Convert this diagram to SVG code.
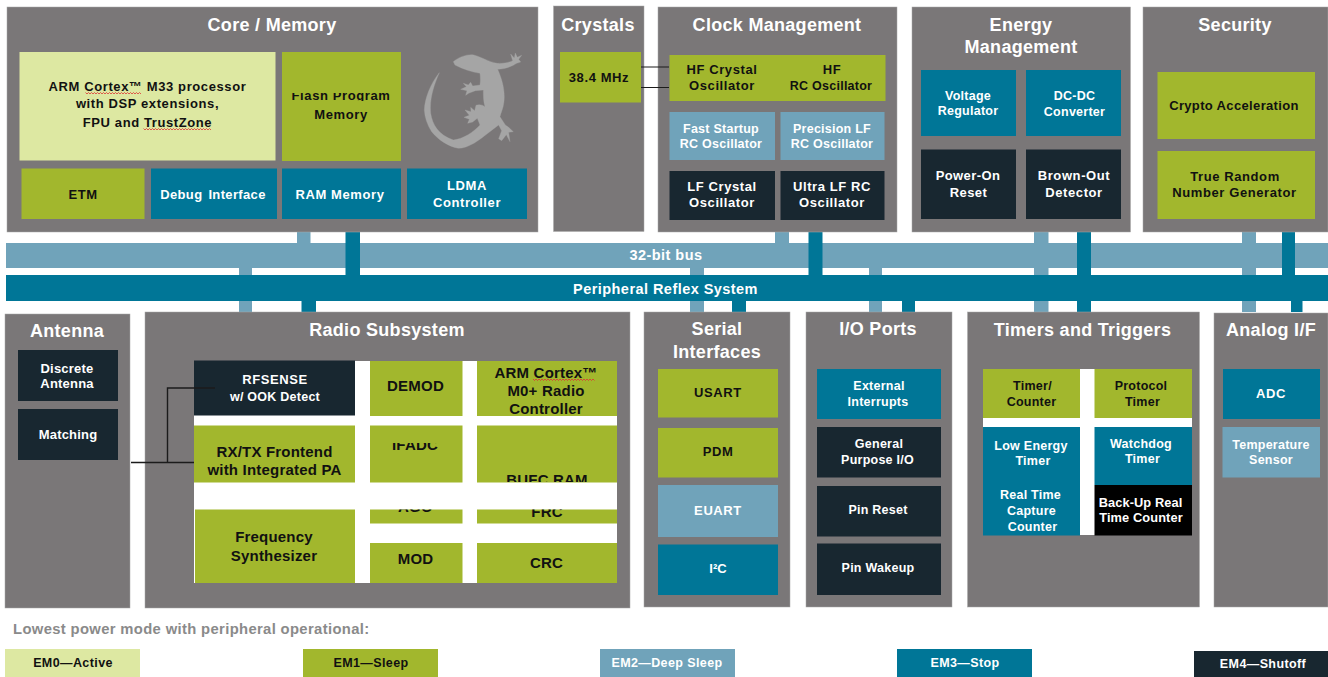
<svg xmlns="http://www.w3.org/2000/svg" width="1328" height="677" viewBox="0 0 1328 677">
<style>
text{font-family:"Liberation Sans",Arial,sans-serif;font-weight:bold;text-anchor:middle}
.p{fill:#7a7778;stroke:#a9a9a9;stroke-width:.5}
.g{fill:#a2b72d}.l{fill:#dde8a2}.b{fill:#70a3ba}.t{fill:#007697}.d{fill:#182730}.k{fill:#000}.w{fill:#fff}
.h{font-size:18px;fill:#fff;letter-spacing:.3px}
.n{font-size:13px;letter-spacing:.6px;fill:#fff}
.n.o{fill:#111}
.n.s{font-size:12.500px;letter-spacing:.25px}
.r{font-size:15px;fill:#111;letter-spacing:.2px}
.bus{font-size:14.500px;fill:#fff;letter-spacing:.45px}
.em{font-size:12.500px;letter-spacing:.4px}
.line{fill:none;stroke:#1b1b1b;stroke-width:1.4}
.sq{fill:none;stroke:#d33;stroke-width:.8}
</style>
<defs>
<clipPath id="clip-flash"><rect x="282" y="93" width="119" height="8"/></clipPath>
<clipPath id="clip-ifadc"><rect x="370" y="443" width="92" height="39"/></clipPath>
<clipPath id="clip-bufc"><rect x="477" y="426" width="140" height="56"/></clipPath>
<clipPath id="clip-low"><rect x="370" y="509.500" width="247" height="14"/></clipPath>
</defs>

<g id="bus-32"><rect class="b" x="6" y="243" width="1322" height="25"/><text class="bus" x="666" y="259.500">32-bit bus</text></g>
<g id="bus-prs"><rect class="t" x="6" y="275" width="1322" height="26"/><text class="bus" x="665.500" y="293.500">Peripheral Reflex System</text></g>

<g id="connectors">
<g class="b">
<rect x="297" y="232" width="13.500" height="11"/><rect x="239" y="268" width="13" height="7"/><rect x="239" y="301" width="13" height="11"/>
<rect x="775" y="232" width="14" height="11"/><rect x="690" y="268" width="14" height="7"/><rect x="690" y="301" width="14" height="11"/>
<rect x="869" y="268" width="13" height="7"/><rect x="869" y="301" width="13" height="11"/>
<rect x="1034" y="232" width="14.500" height="11"/><rect x="1034" y="268" width="14.500" height="7"/><rect x="1034" y="301" width="14.500" height="11"/>
<rect x="1242" y="232" width="14" height="11"/><rect x="1242" y="268" width="14" height="7"/><rect x="1242" y="301" width="14" height="11"/>
</g>
<g class="t">
<rect x="345.500" y="232" width="14.500" height="43"/><rect x="301.500" y="301" width="14.500" height="11"/>
<rect x="808.500" y="232" width="14" height="43"/><rect x="732" y="301" width="14" height="11"/>
<rect x="902" y="301" width="13" height="11"/>
<rect x="1077" y="232" width="14" height="43"/><rect x="1077" y="301" width="14" height="11"/>
<rect x="1282" y="232" width="13" height="43"/><rect x="1291" y="301" width="11.500" height="11"/>
</g>
</g>

<g id="core-memory"><rect class="p" x="7" y="7" width="531" height="225"/><text class="h" x="272" y="30.500">Core / Memory</text></g>
<g id="gecko"><path fill="#a5a5a5" stroke="#a5a5a5" stroke-width="1" stroke-linejoin="round" transform="translate(400 30) scale(.3333)" d="M160 95C175 82 198 73 218 74C240 78 265 96 292 100C310 101 328 97 338 92L332 72L343 84L346 69L352 82L365 76L356 88L362 96L350 100C338 108 318 117 293 118C305 145 316 180 312 215C310 235 302 250 300 260L316 285L326 292L340 305L326 307L330 335L319 314L305 332L296 326L305 302L296 285C275 300 250 322 222 340C205 349 190 355 175 355C145 349 115 330 95 305C82 285 74 262 73 240C74 205 92 160 118 128C102 165 88 205 92 250C98 285 115 315 160 330C190 327 222 305 240 285L232 265L218 276L203 280L208 268L192 262L208 256L195 240L213 245L212 232L224 242L228 226C236 222 248 224 255 230C250 215 250 195 250 180L226 182L206 190L197 196L201 182L182 178L199 170L190 160L205 165L212 157L218 168L240 165C242 150 241 140 240 130C215 126 190 118 165 105Z"/></g>
<g id="arm-m33"><rect class="l" x="19.500" y="52" width="256" height="108.500"/>
<text class="n o" x="147.500" y="91">ARM Cortex™ M33 processor</text>
<text class="n o" x="147.500" y="108">with DSP extensions,</text>
<text class="n o" x="147.500" y="127">FPU and TrustZone</text>
<path class="sq" d="M85.500 92.500l1.500 1.500 1.500-1.500 1.500 1.500 1.500-1.500 1.500 1.500 1.500-1.500 1.500 1.500 1.500-1.500 1.500 1.500 1.500-1.500 1.500 1.500 1.500-1.500 1.500 1.500 1.500-1.500 1.500 1.500 1.500-1.500 1.500 1.500 1.500-1.500 1.500 1.500 1.500-1.500 1.500 1.500 1.500-1.500 1.500 1.500 1.500-1.500 1.500 1.500 1.500-1.500 1.500 1.500 1.500-1.500 1.500 1.500 1.500-1.500 1.500 1.500 1.500-1.500 1.500 1.500 1.500-1.500 1.500 1.500 1.500-1.500 1.500 1.500"/>
<path class="sq" d="M143.500 128.500l1.500 1.500 1.500-1.500 1.500 1.500 1.500-1.500 1.500 1.500 1.500-1.500 1.500 1.500 1.500-1.500 1.500 1.500 1.500-1.500 1.500 1.500 1.500-1.500 1.500 1.500 1.500-1.500 1.500 1.500 1.500-1.500 1.500 1.500 1.500-1.500 1.500 1.500 1.500-1.500 1.500 1.500 1.500-1.500 1.500 1.500 1.500-1.500 1.500 1.500 1.500-1.500 1.500 1.500 1.500-1.500 1.500 1.500 1.500-1.500 1.500 1.500 1.500-1.500 1.500 1.500 1.500-1.500 1.500 1.500 1.500-1.500 1.500 1.500 1.500-1.500 1.500 1.500 1.500-1.500 1.500 1.500 1.500-1.500 1.500 1.500 1.500-1.500 1.500 1.500"/></g>
<g id="flash"><rect class="g" x="282" y="52" width="119" height="109"/>
<text class="n o" x="341" y="99.500" clip-path="url(#clip-flash)">Flash Program</text><text class="n o" x="341" y="119">Memory</text></g>
<g id="etm"><rect class="g" x="21.500" y="168.500" width="123" height="50.500"/><text class="n o" x="83" y="198.500">ETM</text></g>
<g id="debug"><rect class="t" x="151" y="168.500" width="126" height="50.500"/><text class="n" x="213" y="199" word-spacing="2" style="letter-spacing:.35px">Debug Interface</text></g>
<g id="ram"><rect class="t" x="282" y="168.500" width="119" height="50.500"/><text class="n" x="340" y="199">RAM Memory</text></g>
<g id="ldma"><rect class="t" x="407" y="168.500" width="120" height="50.500"/><text class="n" x="467" y="189.500">LDMA</text><text class="n" x="467" y="206.500">Controller</text></g>

<g id="crystals"><rect class="p" x="553.500" y="6" width="90.500" height="225.500"/><text class="h" x="598" y="30.500">Crystals</text></g>
<g id="xtal-38"><rect class="g" x="560" y="52" width="81" height="50.500"/><text class="n o" x="599" y="82">38.4 MHz</text></g>

<g id="clock-management"><rect class="p" x="658" y="7" width="239" height="225"/><text class="h" x="777" y="30.500">Clock Management</text></g>
<g id="hf-osc"><rect class="g" x="669.500" y="55" width="216" height="46"/>
<text class="n o" x="722" y="74">HF Crystal</text><text class="n o" x="722" y="90">Oscillator</text>
<text class="n o" x="832" y="74">HF</text><text class="n o s" x="831" y="90">RC Oscillator</text></g>
<g id="fast-startup"><rect class="b" x="669.500" y="112" width="105.500" height="48"/><text class="n s" x="721" y="132.500">Fast Startup</text><text class="n s" x="721" y="148">RC Oscillator</text></g>
<g id="precision-lf"><rect class="b" x="780.500" y="112" width="104" height="48"/><text class="n s" x="832" y="132.500">Precision LF</text><text class="n s" x="832" y="148">RC Oscillator</text></g>
<g id="lf-crystal"><rect class="d" x="669.500" y="171" width="105.500" height="49"/><text class="n" x="722" y="191">LF Crystal</text><text class="n" x="722" y="207">Oscillator</text></g>
<g id="ultra-lf"><rect class="d" x="780.500" y="171" width="104" height="49"/><text class="n" x="832" y="191">Ultra LF RC</text><text class="n" x="832" y="207">Oscillator</text></g>

<g id="crystal-links"><path class="line" d="M641 67H669M641 87.500H669" style="stroke-width:1"/></g>

<g id="energy-management"><rect class="p" x="912" y="7" width="218.500" height="225"/><text class="h" x="1021" y="30.500">Energy</text><text class="h" x="1021" y="52.500">Management</text></g>
<g id="voltage"><rect class="t" x="921" y="70" width="95" height="66"/><text class="n s" x="968" y="99.500">Voltage</text><text class="n s" x="968" y="114.500">Regulator</text></g>
<g id="dcdc"><rect class="t" x="1026" y="70" width="95" height="66"/><text class="n s" x="1074.500" y="99.500">DC-DC</text><text class="n s" x="1074.500" y="115.500">Converter</text></g>
<g id="por"><rect class="d" x="921" y="149.500" width="95" height="69.500"/><text class="n" x="968" y="180" style="letter-spacing:.4px">Power-On</text><text class="n" x="968.500" y="196.500" style="letter-spacing:.4px">Reset</text></g>
<g id="bod"><rect class="d" x="1026" y="149.500" width="95" height="69.500"/><text class="n" x="1074" y="179.500">Brown-Out</text><text class="n" x="1074" y="196.500">Detector</text></g>

<g id="security"><rect class="p" x="1143" y="7" width="185" height="225"/><text class="h" x="1235" y="30.500">Security</text></g>
<g id="crypto"><rect class="g" x="1157.500" y="72" width="157.500" height="67"/><text class="n o" x="1234" y="110" style="letter-spacing:.35px">Crypto Acceleration</text></g>
<g id="trng"><rect class="g" x="1157.500" y="151" width="157.500" height="68"/><text class="n o" x="1235" y="181">True Random</text><text class="n o" x="1234.500" y="197">Number Generator</text></g>

<g id="antenna"><rect class="p" x="5" y="314" width="125" height="294"/><text class="h" x="67" y="337">Antenna</text></g>
<g id="discrete-antenna"><rect class="d" x="18" y="350" width="100" height="51"/><text class="n" x="67" y="373" style="letter-spacing:.2px">Discrete</text><text class="n" x="67" y="388" style="letter-spacing:.2px">Antenna</text></g>
<g id="matching"><rect class="d" x="18" y="409" width="100" height="51"/><text class="n" x="68" y="439" style="letter-spacing:.2px">Matching</text></g>

<g id="radio-subsystem"><rect class="p" x="145" y="312" width="485" height="296"/><text class="h" x="387" y="336">Radio Subsystem</text></g>
<rect class="w" x="194" y="361" width="423" height="222"/>
<g id="rfsense"><rect class="d" x="194" y="360.500" width="161" height="55"/><text class="n" x="275" y="384">RFSENSE</text><text class="n s" x="275" y="400.500">w/ OOK Detect</text></g>
<g id="rxtx"><rect class="g" x="194" y="425.500" width="161" height="57"/><text class="r" x="274.500" y="457">RX/TX Frontend</text><text class="r" x="274.500" y="475">with Integrated PA</text></g>
<g id="freq-synth"><rect class="g" x="195" y="509.500" width="160" height="73.500"/><text class="r" x="274" y="542">Frequency</text><text class="r" x="274" y="560.500">Synthesizer</text></g>
<g id="demod"><rect class="g" x="370" y="361" width="92.500" height="55"/><text class="r" x="415.500" y="391">DEMOD</text></g>
<g id="m0"><rect class="g" x="477" y="361" width="140" height="55"/>
<text class="r" x="546" y="378">ARM Cortex™</text><text class="r" x="546" y="396">M0+ Radio</text><text class="r" x="546" y="414">Controller</text>
<path class="sq" d="M533 379l1.500 1.500 1.500-1.500 1.500 1.500 1.500-1.500 1.500 1.500 1.500-1.500 1.500 1.500 1.500-1.500 1.500 1.500 1.500-1.500 1.500 1.500 1.500-1.500 1.500 1.500 1.500-1.500 1.500 1.500 1.500-1.500 1.500 1.500 1.500-1.500 1.500 1.500 1.500-1.500 1.500 1.500 1.500-1.500 1.500 1.500 1.500-1.500 1.500 1.500 1.500-1.500 1.500 1.500 1.500-1.500 1.500 1.500 1.500-1.500 1.500 1.500 1.500-1.500 1.500 1.500 1.500-1.500 1.500 1.500 1.500-1.500 1.500 1.500 1.500-1.500 1.500 1.500 1.500-1.500 1.500 1.500"/></g>
<g id="ifadc"><rect class="g" x="370" y="425.500" width="92.500" height="57"/><text class="r" x="415" y="450" clip-path="url(#clip-ifadc)">IFADC</text></g>
<g id="bufc"><rect class="g" x="477" y="425.500" width="140" height="57"/><text class="r" x="547" y="485" clip-path="url(#clip-bufc)">BUFC RAM</text></g>
<g id="agc"><rect class="g" x="370" y="509.500" width="92.500" height="14"/><text class="r" x="415" y="511.500" clip-path="url(#clip-low)">AGC</text></g>
<g id="frc"><rect class="g" x="477" y="509.500" width="140" height="14"/><text class="r" x="547" y="516.500" clip-path="url(#clip-low)">FRC</text></g>
<g id="mod"><rect class="g" x="370" y="543" width="92.500" height="40"/><text class="r" x="415.500" y="564">MOD</text></g>
<g id="crc"><rect class="g" x="477" y="543" width="140" height="40"/><text class="r" x="546.500" y="568">CRC</text></g>
<g id="rf-links"><path class="line" d="M131 462.500H194M167.500 462.500V388H215"/></g>

<g id="serial-interfaces"><rect class="p" x="644" y="312" width="146" height="295"/><text class="h" x="717" y="335">Serial</text><text class="h" x="717" y="357.500">Interfaces</text></g>
<g id="usart"><rect class="g" x="658" y="369" width="120" height="48.500"/><text class="n o" x="718" y="396.500">USART</text></g>
<g id="pdm"><rect class="g" x="658" y="428" width="120" height="49.500"/><text class="n o" x="718" y="456">PDM</text></g>
<g id="euart"><rect class="b" x="658" y="485" width="120" height="52"/><text class="n" x="718" y="515">EUART</text></g>
<g id="i2c"><rect class="t" x="658" y="544.500" width="120" height="50.500"/><text class="n" x="718" y="573" style="letter-spacing:0">I²C</text></g>

<g id="io-ports"><rect class="p" x="806" y="312" width="146" height="295"/><text class="h" x="878" y="335">I/O Ports</text></g>
<g id="ext-int"><rect class="t" x="817" y="369" width="124" height="50"/><text class="n s" x="879" y="389.500">External</text><text class="n s" x="878" y="405.500">Interrupts</text></g>
<g id="gpio"><rect class="d" x="817" y="427" width="124" height="50.500"/><text class="n s" x="879" y="448">General</text><text class="n s" x="877.500" y="464">Purpose I/O</text></g>
<g id="pin-reset"><rect class="d" x="817" y="486" width="124" height="50.500"/><text class="n s" x="878" y="513.500">Pin Reset</text></g>
<g id="pin-wakeup"><rect class="d" x="817" y="543.500" width="124" height="51.500"/><text class="n s" x="878" y="572">Pin Wakeup</text></g>

<g id="timers-triggers"><rect class="p" x="967.500" y="312" width="232" height="295"/><text class="h" x="1082.500" y="336">Timers and Triggers</text></g>
<rect class="w" x="983" y="369" width="209" height="166"/>
<g id="timer-counter"><rect class="g" x="983" y="369" width="97" height="49"/><text class="n o s" x="1032.500" y="390">Timer/</text><text class="n o s" x="1031.500" y="405.500">Counter</text></g>
<g id="protocol-timer"><rect class="g" x="1094.500" y="369" width="97.500" height="49"/><text class="n o s" x="1141" y="390">Protocol</text><text class="n o s" x="1142.500" y="405.500">Timer</text></g>
<g id="le-timer"><rect class="t" x="983" y="427" width="97" height="108.500"/><text class="n s" x="1031" y="449.500">Low Energy</text><text class="n s" x="1033" y="464.500">Timer</text><text class="n s" x="1030.500" y="498.500">Real Time</text><text class="n s" x="1031.500" y="515">Capture</text><text class="n s" x="1032.500" y="531">Counter</text></g>
<g id="watchdog"><rect class="t" x="1094.500" y="427" width="97.500" height="58"/><text class="n s" x="1141" y="448">Watchdog</text><text class="n s" x="1142.500" y="463">Timer</text></g>
<g id="backup-rtc"><rect class="k" x="1094.500" y="485" width="97.500" height="50.500"/><text class="n" x="1140.500" y="507" style="letter-spacing:.1px;font-size:12.800px">Back-Up Real</text><text class="n" x="1141" y="522" style="letter-spacing:.1px;font-size:12.800px">Time Counter</text></g>

<g id="analog-if"><rect class="p" x="1214" y="313" width="114" height="294"/><text class="h" x="1271" y="336">Analog I/F</text></g>
<g id="adc"><rect class="t" x="1223" y="369" width="97" height="50"/><text class="n" x="1271" y="397.500">ADC</text></g>
<g id="temp"><rect class="b" x="1222.500" y="427" width="97.500" height="50.500"/><text class="n s" x="1271" y="449">Temperature</text><text class="n s" x="1271" y="464">Sensor</text></g>

<g id="legend">
<text x="13" y="634" style="text-anchor:start;font-size:14.800px;fill:#8a8a8a;letter-spacing:.35px">Lowest power mode with peripheral operational:</text>
<g id="em0"><rect class="l" x="5" y="649" width="135" height="28"/><text class="em" x="73" y="667" fill="#111">EM0—Active</text></g>
<g id="em1"><rect class="g" x="303" y="649" width="135" height="28"/><text class="em" x="371" y="667" fill="#111">EM1—Sleep</text></g>
<g id="em2"><rect class="b" x="600" y="649" width="135" height="28"/><text class="em" x="667" y="667" fill="#fff">EM2—Deep Sleep</text></g>
<g id="em3"><rect class="t" x="897" y="649" width="135" height="28"/><text class="em" x="965" y="667" fill="#fff">EM3—Stop</text></g>
<g id="em4"><rect class="d" x="1194" y="651" width="134" height="26"/><text class="em" x="1263" y="668" fill="#fff">EM4—Shutoff</text></g>
</g>
</svg>
